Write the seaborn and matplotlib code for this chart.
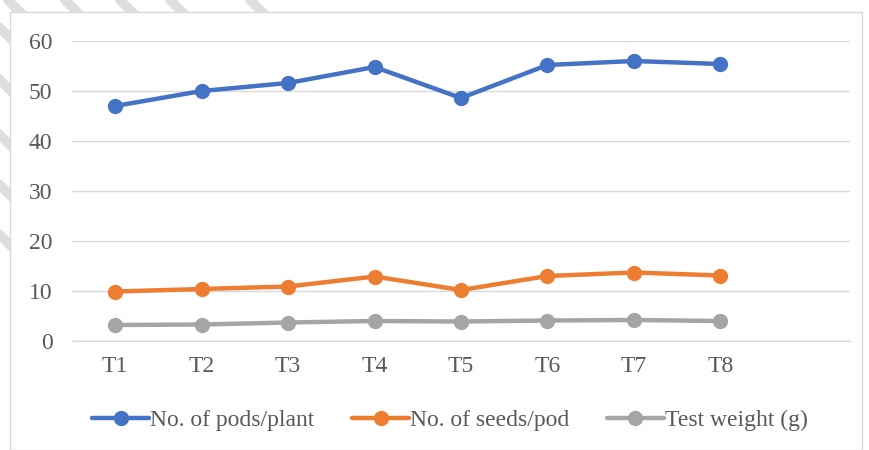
import numpy as np
import pandas as pd
import seaborn as sns
import matplotlib.pyplot as plt
from matplotlib.patches import Rectangle
from matplotlib.lines import Line2D

treatments = ["T1", "T2", "T3", "T4", "T5", "T6", "T7", "T8"]
pods_per_plant = [47.0, 50.0, 51.6, 54.8, 48.6, 55.2, 56.0, 55.4]
seeds_per_pod = [9.9, 10.4, 10.9, 12.9, 10.2, 13.0, 13.7, 13.1]
test_weight = [3.2, 3.3, 3.7, 4.0, 3.9, 4.1, 4.2, 4.0]
series_names = ["No. of pods/plant", "No. of seeds/pod", "Test weight (g)"]
colors = ["#4472C4", "#ED7D31", "#A5A5A5"]
n_slots = 9  # axis reserves one empty category after T8

rows = []
for name, vals in zip(series_names, [pods_per_plant, seeds_per_pod, test_weight]):
    for i, v in enumerate(vals):
        rows.append({"pos": i, "value": v, "series": name})
df = pd.DataFrame(rows)

sns.set_style("white")
plt.rcParams["font.family"] = ["Liberation Serif", "DejaVu Serif"]

W, H = 870, 450
fig = plt.figure(figsize=(W / 100, H / 100), dpi=100)

# faint diagonal watermark stripes peeking out at the top-left margin
for c in [-235, -185, -135, -80, -28, 8, 65, 120, 170, 250]:
    fig.add_artist(Line2D([c / W, (c + 300) / W], [1, 1 - 300 / H], transform=fig.transFigure,
                          color="#DEDEDE", linewidth=7, solid_capstyle="round", zorder=-3))
# chart area with thin border
fig.add_artist(Rectangle((10 / W, 0), 852 / W, 438 / H, transform=fig.transFigure,
                         facecolor="white", edgecolor="#D9D9D9", linewidth=1, zorder=-2))

ax = fig.add_axes([72 / W, 109 / H, 778 / W, 300 / H])
ax.patch.set_alpha(0)

sns.lineplot(data=df, x="pos", y="value", hue="series", palette=colors,
             hue_order=series_names, marker="o", markersize=11, linewidth=3.2,
             markeredgewidth=0, ax=ax, legend=True)

ax.set_xlim(-0.5, n_slots - 0.5)
ax.set_ylim(0, 60)
ax.set_yticks(range(0, 61, 10))
ax.set_xticks(range(len(treatments)))
ax.set_xticklabels(treatments)
ax.set_xticks(np.arange(-0.5, n_slots, 1.0), minor=True)
ax.tick_params(axis="x", which="major", length=0, pad=11, labelsize=17, labelcolor="#595959")
ax.tick_params(axis="x", which="minor", length=6, width=1, color="#D9D9D9", direction="out")
ax.tick_params(axis="y", length=0, pad=14, labelsize=17, labelcolor="#595959")
ax.grid(axis="y", color="#D9D9D9", linewidth=1)
ax.set_axisbelow(True)
for s in ["top", "right", "left"]:
    ax.spines[s].set_visible(False)
ax.spines["bottom"].set_color("#D9D9D9")
ax.spines["bottom"].set_linewidth(1)
ax.set_xlabel("")
ax.set_ylabel("")

handles, labels = ax.get_legend_handles_labels()
ax.legend(handles, labels, loc="center", bbox_to_anchor=(0.486, -0.265), ncol=3,
          frameon=False, fontsize=17, handlelength=2.4, columnspacing=1.6,
          handletextpad=0.05, labelcolor="#595959")

fig.savefig("out.png", dpi=100)
